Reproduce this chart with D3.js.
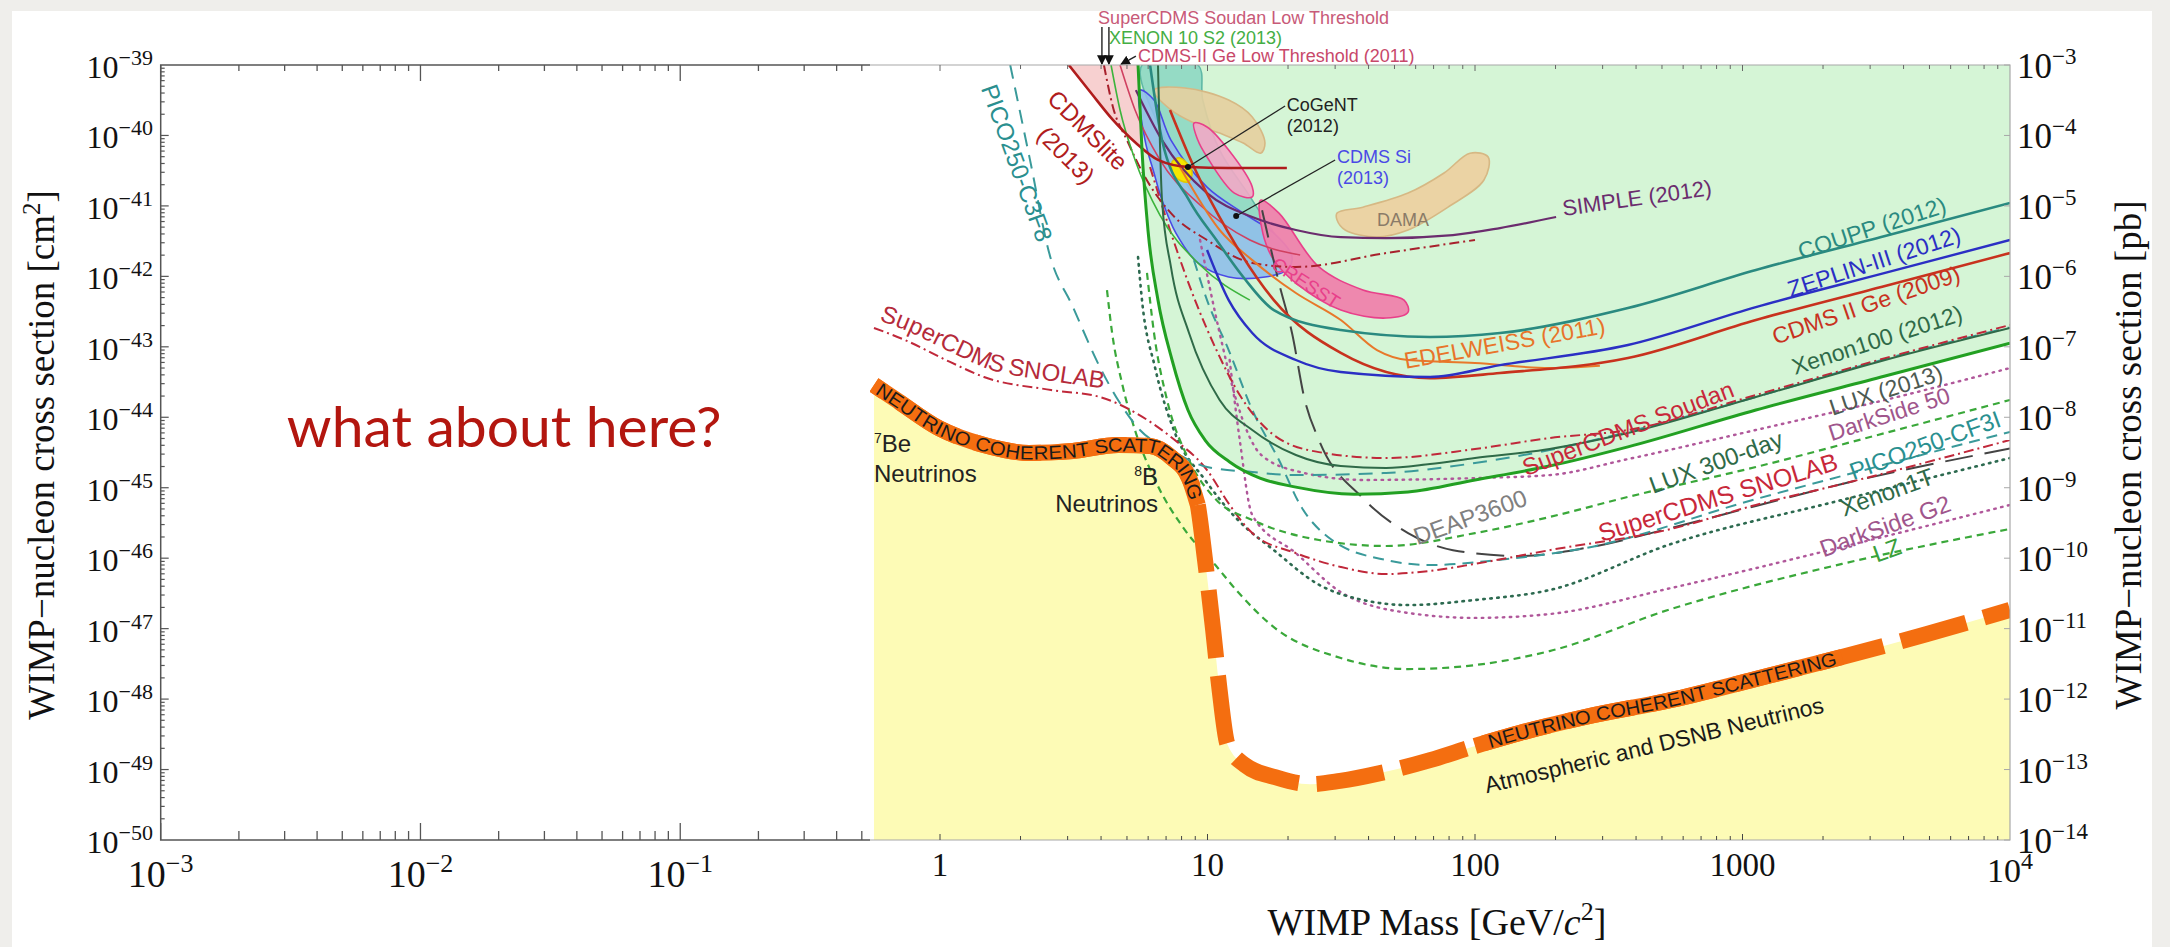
<!DOCTYPE html>
<html>
<head>
<meta charset="utf-8">
<script src="https://cdn.jsdelivr.net/npm/d3@7"></script>
<style>
  html, body { margin: 0; padding: 0; background: #efeeeb; }
  svg { display: block; }
</style>
</head>
<body>
<svg id="chart" width="2170" height="947"></svg>
<script>
// ---------- axis tick values ----------
const massLabelsLeft  = [1e-3, 1e-2, 1e-1];
const massLabelsRight = [1, 10, 100, 1000, 1e4];
const sigmaDecades = [1e-39,1e-40,1e-41,1e-42,1e-43,1e-44,1e-45,1e-46,1e-47,1e-48,1e-49,1e-50];
const pbDecades    = [1e-3,1e-4,1e-5,1e-6,1e-7,1e-8,1e-9,1e-10,1e-11,1e-12,1e-13,1e-14];

// ---------- series: [WIMP mass (GeV), cross section (cm^2)] ----------
const neutrinoFloor = [[0.557,2.87e-44],[0.679,1.76e-44],[0.99,7.0e-45],[1.46,4.04e-45],[2.15,3.11e-45],[3.14,3.32e-45],[4.63,4.04e-45],[6.1,3.91e-45],[7.37,2.64e-45],[8.53,1.37e-45],[9.2,5.7e-46],[9.79,9.4e-47],[10.5,9.55e-48],[11.1,1.34e-48],[11.9,2.23e-49],[13.8,1.16e-49],[17.9,7.8e-50],[24.2,6.2e-50],[31.3,6.9e-50],[44.2,8.9e-50],[67.9,1.36e-49],[100,2.16e-49],[147,3.3e-49],[258,5.56e-49],[541,9.7e-49],[1122,1.93e-48],[2355,3.95e-48],[4898,8.4e-48],[1e4,1.84e-47]];

const lux2013 = [[5.5,1e-39],[5.69,6.2e-41],[5.99,4.55e-42],[6.53,4.6e-43],[7.37,6.5e-44],[8.45,1.27e-44],[9.79,4.75e-45],[12.1,2.32e-45],[15.7,1.37e-45],[21.4,1.02e-45],[35.3,8.1e-46],[56.2,8.7e-46],[100,1.29e-45],[190,2.03e-45],[373,3.8e-45],[1122,1.27e-44],[3412,3.85e-44],[1e4,1.13e-43]];
const xenon100 = [[6.53,1e-39],[6.76,1.21e-41],[7.3,1.36e-42],[8.53,1.57e-43],[11.1,1.76e-44],[14.7,6.6e-45],[21.4,2.91e-45],[31.5,2.03e-45],[46.5,1.9e-45],[67.9,2.17e-45],[100,2.64e-45],[190,3.54e-45],[373,5.97e-45],[1122,1.94e-44],[3412,6.5e-44],[1e4,1.85e-43]];
const coupp = [[6.1,1e-39],[6.76,8.6e-41],[8.53,1.21e-41],[10.8,3.28e-42],[13.6,9.8e-43],[17.7,3.33e-43],[31.5,1.73e-43],[67.9,1.38e-43],[124,1.57e-43],[373,3.56e-43],[1122,1.23e-42],[3412,3.74e-42],[1e4,1.1e-41]];
const zeplin3 = [[9.96,2.37e-42],[12.0,4.6e-43],[14.7,1.57e-43],[21.4,6.5e-44],[31.5,4.39e-44],[67.9,3.73e-44],[124,5.5e-44],[373,1.06e-43],[1122,3.67e-43],[3412,1.12e-42],[1e4,3.28e-42]];
const cdms2Ge = [[7.24,2.3e-40],[8.9,3.56e-41],[12.0,4.1e-42],[17.7,4.6e-43],[31.5,8.2e-44],[67.9,3.6e-44],[124,4.25e-44],[373,6.93e-44],[1122,2.4e-43],[3412,7.3e-43],[1e4,2.14e-42]];
const edelweiss = [[7.89,3.56e-41],[11.1,4.55e-42],[14.7,1.7e-42],[21.4,5.8e-43],[31.5,2.4e-43],[43.0,9.0e-44],[56.2,6.5e-44],[100,5.9e-44],[190,5.0e-44],[293,5.4e-44]];
const simple2012 = [[5.4,4.4e-40],[6.76,8.6e-41],[9.96,1.52e-41],[14.7,6.95e-42],[21.4,4.55e-42],[31.5,3.6e-42],[46.5,3.5e-42],[82.7,3.86e-42],[124,4.85e-42],[201,6.95e-42]];
const cdmslite = [[3.03,1e-39],[3.67,4.0e-40],[4.43,1.66e-40],[5.4,7.8e-41],[6.53,4.5e-41],[8.53,3.56e-41],[12.0,3.45e-41],[19.8,3.45e-41]];
const scdmsSoudan = [[6.1,3.56e-41],[7.24,4.55e-42],[8.98,4.6e-43],[10.8,9.0e-44],[13.2,2.07e-44],[17.7,5.6e-45],[26.1,3.2e-45],[46.5,2.64e-45],[100,3.54e-45],[190,5.07e-45],[373,6.6e-45],[1122,2.07e-44],[3412,6.9e-44],[1e4,2.04e-43]];
const scdmsSoudanLT = [[4.10,1e-39],[4.43,2.54e-40],[5.0,8.6e-41],[5.84,2.57e-41],[7.3,7.9e-42],[9.96,3.28e-42],[14.7,1.55e-42],[21.4,1.36e-42],[46.5,2.14e-42],[100,3.28e-42]];
const xenon10S2 = [[4.36,1e-39],[4.71,2.3e-40],[5.36,4.5e-41],[6.64,7.4e-42],[9.38,1.45e-42],[14.4,4.6e-43]];
const cdms2GeLT = [[4.71,1e-39],[5.36,2.3e-40],[6.64,4.5e-41],[9.38,1.03e-41],[14.4,3.28e-42],[22.2,2.01e-42]];
const picoC3F8 = [[1.83,1e-39],[2.17,4.5e-41],[2.56,2.14e-42],[3.14,3.67e-43],[3.96,5.16e-44],[4.63,1.76e-44],[5.59,6.6e-45],[7.3,3.43e-45],[9.96,1.97e-45],[14.7,1.67e-45],[21.4,1.51e-45],[46.5,1.62e-45],[100,2.24e-45],[190,3.43e-45],[373,6.2e-45],[1122,1.94e-44],[3412,6.7e-44],[1e4,1.9e-43]];
const picoCF3I = [[8.9,1.7e-42],[9.96,4.6e-43],[12.0,9.0e-44],[14.7,1.27e-44],[18.5,2.47e-45],[22.2,5.7e-46],[29.2,1.81e-46],[46.5,9.4e-47],[67.9,8.0e-47],[121,9.4e-47],[258,1.39e-46],[1122,6.9e-46],[2355,1.47e-45],[1e4,6.2e-45]];
const scdmsSnolab = [[0.557,1.85e-43],[0.733,1.25e-43],[1.09,6.1e-44],[1.46,3.73e-44],[2.6,2.44e-44],[3.96,1.94e-44],[5.4,1.15e-44],[7.3,5.24e-45],[9.96,1.78e-45],[12.1,5.7e-46],[14.7,2.27e-46],[21.4,1.18e-46],[31.5,7.5e-47],[46.5,5.96e-47],[67.9,6.6e-47],[100,8.3e-47],[190,1.3e-46],[541,2.6e-46],[1122,5.7e-46],[2355,1.13e-45],[1e4,4.75e-45]];
const deap3600 = [[16.0,8.7e-42],[18.5,8.05e-43],[20.7,1.57e-43],[23.1,1.76e-44],[26.1,4.75e-45],[38.1,7.1e-46],[56.2,2.27e-46],[82.7,1.3e-46],[147,1.07e-46],[258,1.39e-46],[541,2.68e-46],[1122,5.5e-46],[2355,1.13e-45],[1e4,3.6e-45]];
const lux300 = [[5.94,1.12e-42],[6.31,1.57e-43],[7.06,1.76e-44],[8.53,2.47e-45],[10.8,6.7e-46],[14.7,3.48e-46],[26.1,1.81e-46],[46.5,1.49e-46],[100,2.27e-46],[190,3.84e-46],[373,7.4e-46],[1122,1.97e-45],[3412,5.97e-45],[1e4,1.76e-44]];
const lz = [[4.21,6.4e-43],[4.4,1.57e-43],[4.79,3.06e-44],[5.4,5.97e-45],[6.36,1.29e-45],[8.24,2.5e-46],[10.7,8.0e-47],[13.0,3.3e-47],[17.7,1.05e-47],[31.5,3.83e-48],[56.2,2.67e-48],[100,3.04e-48],[190,4.8e-48],[541,1.9e-47],[2355,8.3e-47],[1e4,2.6e-46]];
const darkSide50 = [[9.38,3.28e-42],[11.1,1.57e-43],[12.8,1.76e-44],[15.9,2.91e-45],[22.2,1.67e-45],[38.1,1.29e-45],[100,1.37e-45],[190,1.51e-45],[373,2.55e-45],[1122,6.6e-45],[3412,1.76e-44],[1e4,5.0e-44]];
const darkSideG2 = [[12.1,6.5e-44],[13.2,4.75e-45],[14.7,4.1e-46],[21.4,1.18e-46],[31.5,3.3e-47],[56.2,1.67e-47],[100,1.42e-47],[190,1.61e-47],[541,3.77e-47],[2355,1.44e-46],[1e4,5.7e-46]];
const xenon1T = [[5.5,1.88e-42],[5.69,4.6e-43],[6.36,5.16e-44],[7.56,5.97e-45],[9.79,1.29e-45],[13.0,3.48e-46],[17.7,1.3e-46],[26.1,4.2e-47],[38.1,2.55e-47],[56.2,2.16e-47],[100,2.55e-47],[190,3.53e-47],[541,1.59e-46],[2355,6.7e-46],[1e4,2.64e-45]];

// ---------- closed regions ----------
const xenon10Region = [[5.69,1e-39],[6.76,1.08e-40],[9.2,1.21e-41],[13.0,4.1e-42],[18.5,2.61e-42],[14.7,1.21e-41],[11.1,6.2e-41],[9.6,3.18e-40],[9.2,1e-39]];
const damaLow  = [[6.31,4.4e-40],[8.24,4.72e-40],[12.0,3.18e-40],[14.7,1.83e-40],[16.4,7.8e-41],[15.8,5.6e-41],[13.6,7.8e-41],[11.1,1.08e-40],[8.9,1.5e-40],[7.3,2.3e-40]];
const damaHigh = [[30.5,7.9e-42],[38.1,9.6e-42],[56.2,1.52e-41],[76.6,2.93e-41],[95.8,5.6e-41],[112,4.94e-41],[108,2.33e-41],[79.3,9.6e-42],[56.2,4.55e-42],[43.0,3.62e-42],[32.7,4.55e-42],[30.5,6.3e-42]];
const cdmsSi = [[5.59,4.4e-40],[6.31,3.18e-40],[7.3,8.6e-41],[9.96,1.85e-41],[13.6,7.9e-42],[17.7,4.1e-42],[20.7,1.88e-42],[19.8,1.23e-42],[16.4,9.8e-43],[12.0,9.8e-43],[9.2,1.55e-42],[7.62,4.1e-42],[6.76,1.21e-41],[6.31,2.93e-41],[5.84,8.6e-41]];
const cresstLow  = [[8.9,1.5e-40],[9.96,1.32e-40],[12.0,6.2e-41],[14.7,1.85e-41],[14.7,1.34e-41],[12.6,1.52e-41],[9.96,4.94e-41],[9.2,8.6e-41]];
const cresstHigh = [[15.8,1.21e-41],[18.5,7.9e-42],[26.1,1.36e-42],[38.1,6.4e-43],[54.3,4.6e-43],[56.2,3.1e-43],[46.5,2.56e-43],[31.5,3.33e-43],[21.4,8.05e-43],[17.7,1.7e-42],[16.1,4.1e-42]];
const cogent = [[7.37,4.2e-41],[7.89,4.8e-41],[8.75,3.03e-41],[8.45,2.18e-41],[7.5,2.66e-41]];

// ---------- layout ----------
const svg = d3.select("#chart");
const W = 2170, H = 947;
const plot = { left: 160.7, inner: 870, right: 2010, top: 65, bottom: 840 };
const serif = "'Liberation Serif','Times New Roman',Times,serif";
const sans  = "'Liberation Sans',Arial,Helvetica,sans-serif";

// two stitched log ranges share one piecewise log scale
const x = d3.scaleLog().domain([1e-3, 1, 1e4]).range([plot.left, 940, plot.right]);
const y = d3.scaleLog().domain([1e-50, 1e-39]).range([plot.bottom, plot.top]);
const yPb = d3.scaleLog().domain([1e-14, 1e-3]).range([plot.bottom, plot.top]);

svg.append("rect").attr("x", 12).attr("y", 11).attr("width", 2140).attr("height", H - 11).attr("fill", "#ffffff");

const defs = svg.append("defs");
defs.append("clipPath").attr("id", "plotClip").append("rect")
  .attr("x", plot.inner).attr("y", plot.top)
  .attr("width", plot.right - plot.inner).attr("height", plot.bottom - plot.top);

const line = d3.line().x(d => x(d[0])).y(d => y(d[1])).curve(d3.curveMonotoneX);
const blob = d3.line().x(d => x(d[0])).y(d => y(d[1])).curve(d3.curveCatmullRomClosed.alpha(0.5));

const g = svg.append("g").attr("clip-path", "url(#plotClip)");

// neutrino background region
g.append("path").datum(neutrinoFloor)
  .attr("d", d3.area().x(d => x(d[0])).y0(y(1e-50)).y1(d => y(d[1])).curve(d3.curveMonotoneX))
  .attr("fill", "#fdfbb6");

// CDMSlite excluded region
g.append("path").datum(cdmslite)
  .attr("d", d3.area().x(d => x(d[0])).y0(y(1e-39)).y1(d => y(d[1])).curve(d3.curveMonotoneX))
  .attr("fill", "#f7d0d0");

// excluded region above the LUX (2013) limit
g.append("path").datum(lux2013)
  .attr("d", d3.area().x(d => x(d[0])).y0(y(1e-39)).y1(d => y(d[1])).curve(d3.curveMonotoneX))
  .attr("fill", "#d5f5d6");

// signal / excluded regions
const regions = [
  { data: xenon10Region, fill: "#7fd2bf", stroke: "#5fb8a6", opacity: 0.75 },
  { data: damaLow,  fill: "#e6cf9e", stroke: "#d6b884", opacity: 0.9 },
  { data: damaHigh, fill: "#ebd3a4", stroke: "#d6b884", opacity: 1 },
  { data: cdmsSi,   fill: "#8fbfe9", stroke: "#4a4ae6", opacity: 0.9 },
  { data: cresstLow,  fill: "#f1a9c5", stroke: "#e8408a", opacity: 0.9 },
  { data: cresstHigh, fill: "#ef82ac", stroke: "#e8408a", opacity: 0.95 },
  { data: cogent, fill: "#f6e600", stroke: "#e0c800", opacity: 1 }
];
g.selectAll("path.region").data(regions).join("path").attr("class", "region")
  .attr("d", r => blob(r.data)).attr("fill", r => r.fill).attr("fill-opacity", r => r.opacity)
  .attr("stroke", r => r.stroke).attr("stroke-width", 1.6);

// exclusion limits and projected sensitivities
const series = [
  { data: lz,          color: "#3aa83a", width: 2.2, dash: "7 5" },
  { data: darkSideG2,  color: "#b0579a", width: 2.4, dash: "1.5 5.5", cap: "round" },
  { data: xenon1T,     color: "#2d6a50", width: 2.6, dash: "1.5 5.5", cap: "round" },
  { data: deap3600,    color: "#444444", width: 2.0, dash: "28 12" },
  { data: picoCF3I,    color: "#3a9a9a", width: 2.0, dash: "11 7" },
  { data: scdmsSnolab, color: "#c0283a", width: 2.0, dash: "10 4 2 4" },
  { data: lux300,      color: "#3aa83a", width: 2.2, dash: "7 5" },
  { data: darkSide50,  color: "#b0579a", width: 2.4, dash: "1.5 5.5", cap: "round" },
  { data: picoC3F8,    color: "#3a9a9a", width: 2.0, dash: "14 9" },
  { data: scdmsSoudan, color: "#c0283a", width: 2.0, dash: "10 4 2 4" },
  { data: scdmsSoudanLT, color: "#a8202c", width: 2.0, dash: "10 4 2 4" },
  { data: xenon10S2,   color: "#3cb43c", width: 1.6 },
  { data: cdms2GeLT,   color: "#d04060", width: 1.6 },
  { data: simple2012,  color: "#6b2c6e", width: 2.2 },
  { data: edelweiss,   color: "#e8782a", width: 2.0 },
  { data: cdms2Ge,     color: "#c8321e", width: 2.6 },
  { data: zeplin3,     color: "#2b2fc4", width: 2.4 },
  { data: coupp,       color: "#2a8a80", width: 2.6 },
  { data: xenon100,    color: "#2f6a48", width: 2.0 },
  { data: cdmslite,    color: "#b01c1c", width: 2.6 },
  { data: lux2013,     color: "#22a022", width: 3.0 }
];
g.selectAll("path.limit").data(series).join("path").attr("class", "limit")
  .attr("d", s => line(s.data)).attr("fill", "none")
  .attr("stroke", s => s.color).attr("stroke-width", s => s.width)
  .attr("stroke-dasharray", s => s.dash || null)
  .attr("stroke-linecap", s => s.cap || "butt");

// neutrino coherent scattering floor
const bandColor = "#f46e10";
const bandLeft  = neutrinoFloor.filter(d => d[0] <= 9.2);
const bandRight = neutrinoFloor.filter(d => d[0] >= 100 && d[0] <= 2400);
const leftPath = g.append("path").datum(bandLeft).attr("id", "bandLeftPath")
  .attr("d", line).attr("fill", "none").attr("stroke", bandColor).attr("stroke-width", 16);
const leftLen = leftPath.node().getTotalLength();
g.append("path").datum(neutrinoFloor).attr("d", line).attr("fill", "none")
  .attr("stroke", bandColor).attr("stroke-width", 16)
  .attr("stroke-dasharray", "68 18").attr("stroke-dashoffset", 86 - (leftLen % 86));
g.append("path").datum(bandRight).attr("id", "bandRightPath")
  .attr("d", line).attr("fill", "none").attr("stroke", bandColor).attr("stroke-width", 16);

// text on the band
[["#bandLeftPath", 5], ["#bandRightPath", 14]].forEach(([id, off]) => {
  const len = svg.select(id).node().getTotalLength();
  svg.append("text").attr("font-family", sans).attr("font-size", 19).attr("fill", "#1a1a1a").attr("dy", 6.5)
    .append("textPath").attr("href", id).attr("startOffset", off)
    .attr("textLength", Math.min(len - off - 6, 368)).attr("lengthAdjust", "spacingAndGlyphs")
    .text("NEUTRINO COHERENT SCATTERING");
});

// label above the low-mass SNOLAB curve
svg.append("path").datum(scdmsSnolab.filter(d => d[0] <= 4)).attr("id", "snolabLowPath")
  .attr("d", line).attr("fill", "none").attr("stroke", "none");
svg.append("text").attr("font-family", sans).attr("font-size", 24).attr("fill", "#b52a3a").attr("dy", -9)
  .append("textPath").attr("href", "#snolabLowPath").attr("startOffset", 2).text("SuperCDMS SNOLAB");

// ---------- curve labels ----------
const curveLabels = [
  { text: "SIMPLE (2012)",      at: [403, 1.29e-41],  angle: -8,   color: "#6b2c6e", size: 22 },
  { text: "COUPP (2012)",       at: [3048, 4.85e-42], angle: -18,  color: "#2a8a80", size: 23 },
  { text: "ZEPLIN-III (2012)",  at: [3104, 1.6e-42],  angle: -18,  color: "#2b2fc4", size: 23 },
  { text: "CDMS II Ge  (2009)", at: [2897, 3.92e-43], angle: -19,  color: "#c8321e", size: 23 },
  { text: "EDELWEISS (2011)",   at: [129, 1.13e-43],  angle: -10,  color: "#e8742a", size: 23 },
  { text: "Xenon100 (2012)",    at: [3184, 1.25e-43], angle: -18,  color: "#2f6a48", size: 23 },
  { text: "SuperCDMS Soudan",   at: [373, 7.0e-45],   angle: -21,  color: "#c8283a", size: 24 },
  { text: "LUX (2013)",         at: [3436, 2.44e-44], angle: -18,  color: "#4d5a52", size: 23 },
  { text: "DarkSide 50",        at: [3532, 1.11e-44], angle: -18,  color: "#a0568c", size: 23 },
  { text: "LUX 300-day",        at: [796, 2.32e-45],  angle: -20,  color: "#2f6a48", size: 24 },
  { text: "PICO250-CF3I",       at: [4809, 4.04e-45], angle: -20,  color: "#2a9090", size: 24 },
  { text: "SuperCDMS SNOLAB",   at: [809, 7.4e-46],   angle: -17,  color: "#c8283a", size: 25 },
  { text: "DEAP3600",           at: [95.8, 3.84e-46], angle: -20,  color: "#808080", size: 24 },
  { text: "Xenon1T",            at: [3467, 8.7e-46],  angle: -20,  color: "#2f6a48", size: 24 },
  { text: "DarkSide G2",        at: [3412, 2.86e-46], angle: -20,  color: "#a0568c", size: 24 },
  { text: "LZ",                 at: [3467, 1.31e-46], angle: -20,  color: "#3aa03a", size: 24 },
  { text: "Atmospheric and DSNB Neutrinos", at: [467, 2.23e-49], angle: -13.5, color: "#1a1a1a", size: 23 },
  { text: "CRESST",             at: [23.3, 8.05e-43], angle: 33,   color: "#e8408a", size: 19 },
  { text: "DAMA",               at: [53.8, 6.3e-42],  angle: 0,    color: "#8a7b68", size: 18 },
  { text: "PICO250-C3F8",       at: [1.94, 4.06e-41], angle: 70,   color: "#2a8f8f", size: 24 },
  { text: "CDMSlite",           at: [3.57, 1.19e-40], angle: 45,   color: "#b01c1c", size: 24 },
  { text: "(2013)",             at: [2.96, 5.27e-41], angle: 45,   color: "#b01c1c", size: 24 }
];
svg.selectAll("text.clabel").data(curveLabels).join("text").attr("class", "clabel")
  .attr("transform", d => `translate(${x(d.at[0])},${y(d.at[1])}) rotate(${d.angle})`)
  .attr("text-anchor", "middle").attr("dominant-baseline", "central")
  .attr("font-family", sans).attr("font-size", d => d.size).attr("fill", d => d.color)
  .text(d => d.text);

// multi-line annotations anchored at their first baseline
const notes = [
  { lines: ["CoGeNT", "(2012)"], at: [19.8, 2.22e-40], color: "#222222", size: 18, anchor: "start" },
  { lines: ["CDMS Si", "(2013)"], at: [30.5, 4.06e-41], color: "#4a4ae6", size: 18, anchor: "start" },
  { lines: ["Neutrinos"], at: [0.557, 1.2e-45], color: "#222222", size: 24, anchor: "start" },
  { lines: ["Neutrinos"], at: [6.53, 4.52e-46], color: "#222222", size: 24, anchor: "end" },
  { lines: ["SuperCDMS Soudan Low Threshold"], at: [3.90, 3.82e-39], color: "#c85a78", size: 18, anchor: "start" },
  { lines: ["XENON 10 S2 (2013)"], at: [4.28, 1.99e-39], color: "#44ae44", size: 18, anchor: "start" },
  { lines: ["CDMS-II Ge Low Threshold (2011)"], at: [5.50, 1.1e-39], color: "#c8486a", size: 18, anchor: "start" }
];
notes.forEach(n => {
  const t = svg.append("text").attr("x", x(n.at[0])).attr("y", y(n.at[1]))
    .attr("font-family", sans).attr("font-size", n.size).attr("fill", n.color).attr("text-anchor", n.anchor);
  n.lines.forEach((l, i) => t.append("tspan").attr("x", x(n.at[0])).attr("dy", i ? "1.15em" : 0).text(l));
});

// isotope labels with superscript mass numbers
const isotopes = [
  { mass: "7", name: "Be", at: [0.557, 3.21e-45], anchor: "start" },
  { mass: "8", name: "B",  at: [6.53, 1.09e-45],  anchor: "end" }
];
isotopes.forEach(s => {
  const t = svg.append("text").attr("x", x(s.at[0])).attr("y", y(s.at[1]))
    .attr("font-family", sans).attr("font-size", 24).attr("fill", "#222").attr("text-anchor", s.anchor);
  t.append("tspan").attr("font-size", 14).attr("dy", -9).text(s.mass);
  t.append("tspan").attr("dy", 9).text(s.name);
});

// pointer lines
const pointers = [
  { from: [19.5, 2.62e-40], to: [8.45, 3.56e-41] },
  { from: [30.0, 4.49e-41], to: [12.8, 7.2e-42] }
];
defs.append("marker").attr("id", "arrowHead").attr("viewBox", "0 0 10 10").attr("refX", 9).attr("refY", 5)
  .attr("markerWidth", 7).attr("markerHeight", 7).attr("orient", "auto")
  .append("path").attr("d", "M0,0 L10,5 L0,10 z").attr("fill", "#111");
svg.selectAll("line.pointer").data(pointers).join("line").attr("class", "pointer")
  .attr("x1", d => x(d.from[0])).attr("y1", d => y(d.from[1]))
  .attr("x2", d => x(d.to[0])).attr("y2", d => y(d.to[1]))
  .attr("stroke", "#222").attr("stroke-width", 1.3);
svg.selectAll("circle.pointer").data(pointers).join("circle").attr("class", "pointer")
  .attr("cx", d => x(d.to[0])).attr("cy", d => y(d.to[1])).attr("r", 3).attr("fill", "#111");

const topArrows = [
  { from: [4.03, 3.47e-39], to: [4.03, 1.03e-39] },
  { from: [4.28, 3.47e-39], to: [4.28, 1.03e-39] },
  { from: [5.40, 1.34e-39], to: [4.75, 1.02e-39] }
];
svg.selectAll("line.arrow").data(topArrows).join("line").attr("class", "arrow")
  .attr("x1", d => x(d.from[0])).attr("y1", d => y(d.from[1]))
  .attr("x2", d => x(d.to[0])).attr("y2", d => y(d.to[1]))
  .attr("stroke", "#222").attr("stroke-width", 1.4).attr("marker-end", "url(#arrowHead)");

// ---------- frame and ticks ----------
const axes = svg.append("g");
const dark = "#555", light = "#a8a8a8";
// left (blank) panel frame
axes.append("path").attr("d", `M${plot.inner},${plot.top}H${plot.left}V${plot.bottom}H${plot.inner}`)
  .attr("fill", "none").attr("stroke", dark).attr("stroke-width", 1.5);
// right (data) panel frame
axes.append("path").attr("d", `M${plot.inner},${plot.top}H${plot.right}V${plot.bottom}H${plot.inner}`)
  .attr("fill", "none").attr("stroke", light).attr("stroke-width", 1.2);

const allMassTicks = x.ticks();
const isDecade = v => Math.abs(Math.log10(v) - Math.round(Math.log10(v))) < 1e-6;
const leftMass = allMassTicks.filter(v => v < 0.55);
const rightMass = allMassTicks.filter(v => v >= 1 && v < 1e4);

axes.selectAll("line.bt").data(leftMass).join("line").attr("class", "bt")
  .attr("x1", d => x(d)).attr("x2", d => x(d))
  .attr("y1", plot.bottom).attr("y2", d => plot.bottom - (isDecade(d) ? 17 : 9))
  .attr("stroke", dark).attr("stroke-width", 1.3);
axes.selectAll("line.tt").data(leftMass).join("line").attr("class", "tt")
  .attr("x1", d => x(d)).attr("x2", d => x(d))
  .attr("y1", plot.top).attr("y2", d => plot.top + (isDecade(d) ? 16 : 6))
  .attr("stroke", dark).attr("stroke-width", 1.3);
axes.selectAll("line.bt2").data(rightMass).join("line").attr("class", "bt2")
  .attr("x1", d => x(d)).attr("x2", d => x(d))
  .attr("y1", plot.bottom).attr("y2", d => plot.bottom - (isDecade(d) ? 6 : 4))
  .attr("stroke", "#444").attr("stroke-width", 1);
axes.selectAll("line.tt2").data(rightMass).join("line").attr("class", "tt2")
  .attr("x1", d => x(d)).attr("x2", d => x(d))
  .attr("y1", plot.top).attr("y2", d => plot.top + (isDecade(d) ? 6 : 4))
  .attr("stroke", "#666").attr("stroke-width", 1);

const sigmaTicks = y.ticks(30);
axes.selectAll("line.lt").data(sigmaTicks).join("line").attr("class", "lt")
  .attr("y1", d => y(d)).attr("y2", d => y(d))
  .attr("x1", plot.left).attr("x2", d => plot.left + (isDecade(d) ? 8 : 4))
  .attr("stroke", dark).attr("stroke-width", 1.2);
axes.selectAll("line.rt").data(pbDecades).join("line").attr("class", "rt")
  .attr("y1", d => yPb(d)).attr("y2", d => yPb(d))
  .attr("x1", plot.right).attr("x2", plot.right - 6)
  .attr("stroke", light).attr("stroke-width", 1);

// power-of-ten labels
function powLabel(px, py, exponent, base, sup, anchor, raise) {
  const t = axes.append("text").attr("x", px).attr("y", py).attr("text-anchor", anchor)
    .attr("font-family", serif).attr("font-size", base).attr("fill", "#111");
  t.append("tspan").text("10");
  t.append("tspan").attr("font-size", sup).attr("dy", -raise)
    .text((exponent < 0 ? "\u2212" : "") + Math.abs(exponent));
}
sigmaDecades.forEach(v => powLabel(153, y(v) + 13, Math.round(Math.log10(v)), 32, 22, "end", 13));
pbDecades.forEach(v => powLabel(2017, yPb(v) + 13, Math.round(Math.log10(v)), 35, 23, "start", 14));
massLabelsLeft.forEach(v => powLabel(x(v), 887, Math.round(Math.log10(v)), 38, 26, "middle", 15));
massLabelsRight.forEach(v => {
  if (v >= 1e4) powLabel(x(v), 882, Math.round(Math.log10(v)), 34, 24, "middle", 13);
  else axes.append("text").attr("x", x(v)).attr("y", 876).attr("text-anchor", "middle")
    .attr("font-family", serif).attr("font-size", 33).attr("fill", "#111").text(v);
});

// axis titles
const yTitle = axes.append("text").attr("transform", "translate(54,455) rotate(-90)")
  .attr("text-anchor", "middle").attr("font-family", serif).attr("font-size", 37).attr("fill", "#111");
yTitle.append("tspan").text("WIMP\u2212nucleon cross section [cm");
yTitle.append("tspan").attr("font-size", 25).attr("dy", -14).text("2");
yTitle.append("tspan").attr("dy", 14).text("]");

axes.append("text").attr("transform", "translate(2141,455) rotate(-90)")
  .attr("text-anchor", "middle").attr("font-family", serif).attr("font-size", 37).attr("fill", "#111")
  .text("WIMP\u2212nucleon cross section [pb]");

const xTitle = axes.append("text").attr("x", 1437).attr("y", 935).attr("text-anchor", "middle")
  .attr("font-family", serif).attr("font-size", 38).attr("fill", "#111");
xTitle.append("tspan").text("WIMP Mass [GeV/");
xTitle.append("tspan").attr("font-style", "italic").text("c");
xTitle.append("tspan").attr("font-size", 26).attr("dy", -15).text("2");
xTitle.append("tspan").attr("dy", 15).text("]");

// question in the empty low-mass panel
svg.append("text").attr("x", x(3.06e-3)).attr("y", y(3.79e-45))
  .attr("font-family", "'Gill Sans','Lato','Open Sans',sans-serif").attr("font-size", 57)
  .attr("fill", "#b3160f").text("what about here?");
</script>
</body>
</html>
